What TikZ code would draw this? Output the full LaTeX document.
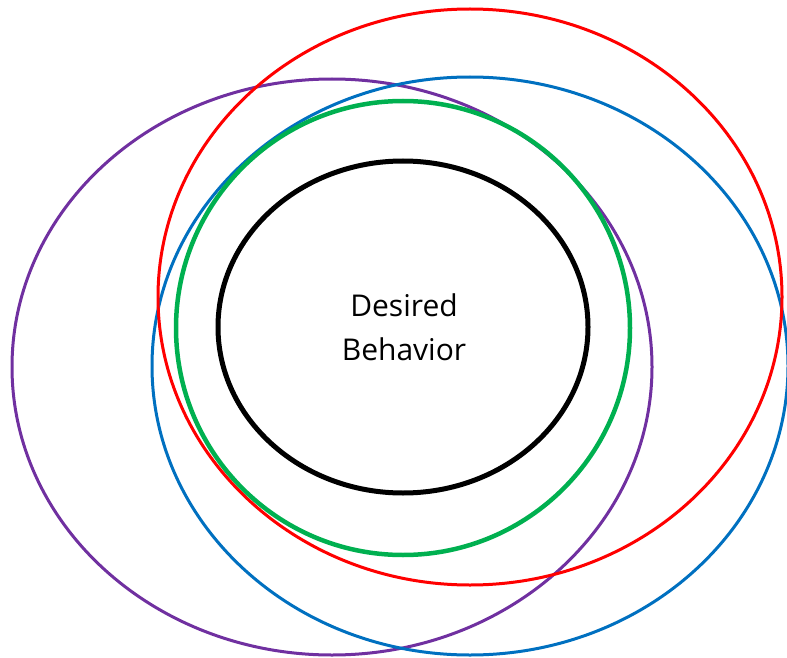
\documentclass[tikz,border=0pt]{standalone}
\usepackage{fontspec}
\setmainfont{Open Sans}
\usetikzlibrary{positioning}
\definecolor{ringred}{HTML}{FF0000}
\definecolor{ringblue}{HTML}{0070C0}
\definecolor{ringgreen}{HTML}{00B050}
\definecolor{ringpurple}{HTML}{7030A0}
\begin{document}
\begin{tikzpicture}[
    x=1pt, y=-1pt,
    ring/.style={draw=#1, line width=3pt},
    label/.style={align=center, font=\fontsize{30}{44}\selectfont},
]
    \useasboundingbox (0,0) rectangle (787,658);
    \draw[ring=ringpurple] (332,367) ellipse [x radius=320, y radius=288];
    \draw[ring=ringblue] (470,366) ellipse [x radius=318, y radius=289];
    \draw[ring=ringred] (470,297) ellipse [x radius=312, y radius=288];
    \draw[ring=ringgreen, line width=4.5pt] (403,328) ellipse [x radius=227, y radius=227];
    \draw[ring=black, line width=5pt] (403,327) ellipse [x radius=185, y radius=166];

    \node[label] (desired) at (404,327) {Desired\\Behavior};
\end{tikzpicture}
\end{document}
